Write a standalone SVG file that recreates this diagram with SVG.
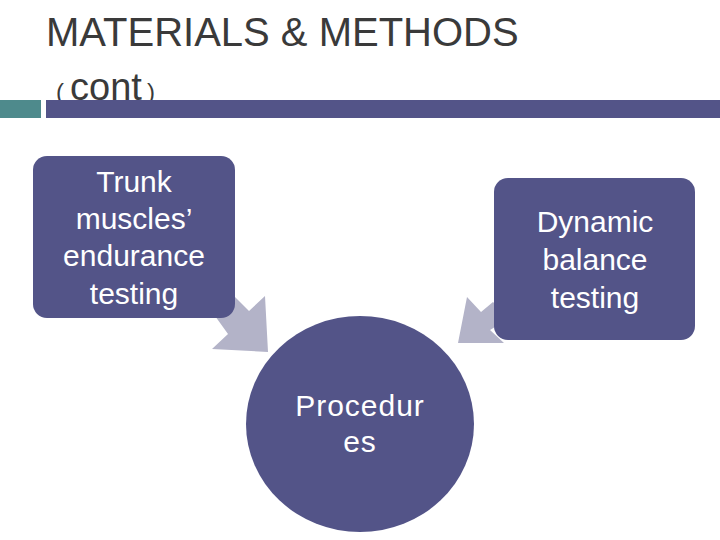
<svg xmlns="http://www.w3.org/2000/svg" width="720" height="540" viewBox="0 0 720 540">
<style>
.t{font-family:"Liberation Sans",Arial,sans-serif;fill:#3a3a3a}
.n{fill:#535488}
.w{font-family:"Liberation Sans",Arial,sans-serif;fill:#fff;text-anchor:middle;font-size:30px}
.a{fill:#b3b3c8}
</style>
<rect width="720" height="540" fill="#fff"/>
<text class="t" x="46" y="46" font-size="40">MATERIALS &amp; METHODS</text>
<text class="t" x="56" y="100" font-size="24">(</text><text class="t" x="70" y="100" font-size="38">cont</text><text class="t" x="147" y="100" font-size="24">)</text>
<rect x="0" y="100" width="41" height="18" fill="#4e8a8c"/>
<rect x="46" y="100" width="674" height="18" class="n"/>
<g id="connectors">
<polygon class="a" points="205,302 222,284 249,311 265,296 268,352 212,349 228,334"/>
<polygon class="a" points="510,318 493,302 481,312 467,297 458,343 504,343 490,330"/>
</g>
<g id="trunk">
<rect x="33" y="156" width="202" height="162" rx="14" class="n"/>
<text class="w" x="134" y="192">Trunk</text>
<text class="w" x="134" y="229">muscles’</text>
<text class="w" x="134" y="266">endurance</text>
<text class="w" x="134" y="304">testing</text>
</g>
<g id="dynamic">
<rect x="494" y="178" width="201" height="162" rx="14" class="n"/>
<text class="w" x="595" y="232">Dynamic</text>
<text class="w" x="595" y="270">balance</text>
<text class="w" x="595" y="308">testing</text>
</g>
<g id="procedures">
<ellipse cx="360" cy="424" rx="114" ry="108" class="n"/>
<text class="w" x="360" y="416" font-size="27" letter-spacing="1">Procedur</text>
<text class="w" x="360" y="452" font-size="27" letter-spacing="1">es</text>
</g>
</svg>
